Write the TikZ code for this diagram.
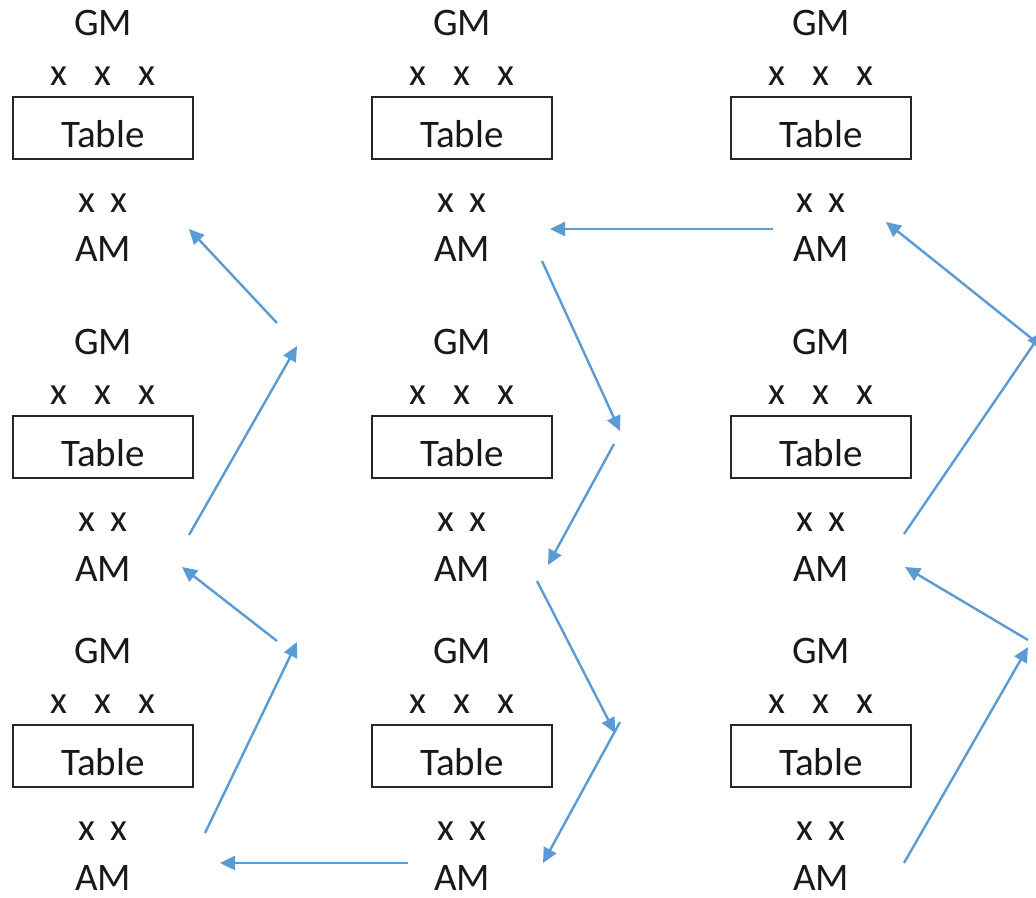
\documentclass[tikz,border=0pt]{standalone}
\usepackage{fontspec}
\setmainfont{Carlito}
\usetikzlibrary{arrows.meta}
\definecolor{arrowblue}{RGB}{91,155,213}
\definecolor{txt}{RGB}{25,25,25}
\tikzset{
  lbl/.style={font=\fontsize{39}{39}\selectfont, text=txt, inner sep=0pt, anchor=base},
  tbl/.style={draw=black!85, line width=2pt, minimum width=180pt, minimum height=62pt, inner sep=0pt},
  flow/.style={draw=arrowblue, line width=2.4pt, -{Triangle[length=15pt,width=14pt]}},
}
\newcommand\station[4]{%
  \node[lbl] (#1gm) at (#2,35+#3) {GM};
  \node[lbl] (#1top) at (#2,85+#3) {x\hspace{27pt}x\hspace{27pt}x};
  \node[tbl] (#1tab) at (#2,128+#3) {};
  \node[lbl] (#1tabtxt) at (#2,147+#3) {Table};
  \node[lbl] (#1low) at (#2,212+#3) {x\hspace{16pt}x};
  \node[lbl] (#1am) at (#2,261+#4) {AM};
}
\begin{document}
\begin{tikzpicture}[x=1pt,y=-1pt]
\useasboundingbox (0,0) rectangle (1036,897);
\clip (0,0) rectangle (1036,897);
\station{a}{103}{0}{0}
\station{b}{103}{319}{320}
\station{c}{103}{628}{629}
\station{d}{462}{0}{0}
\station{e}{462}{319}{320}
\station{f}{462}{628}{629}
\station{g}{821}{0}{0}
\station{h}{821}{319}{320}
\station{i}{821}{628}{629}
% arrow end points
\coordinate (p1s) at (277,323); \coordinate (p1e) at (189,229);
\coordinate (p2s) at (189,535); \coordinate (p2e) at (297,346);
\coordinate (p3s) at (277,641); \coordinate (p3e) at (182,567);
\coordinate (p4s) at (205,833); \coordinate (p4e) at (297,642);
\coordinate (p5s) at (408,863); \coordinate (p5e) at (220,863);
\coordinate (p6s) at (542,261); \coordinate (p6e) at (620,431);
\coordinate (p7s) at (614,444); \coordinate (p7e) at (548,565);
\coordinate (p8s) at (537,581); \coordinate (p8e) at (615,733);
\coordinate (p9s) at (620,722); \coordinate (p9e) at (543,863);
\coordinate (p10s) at (773,229); \coordinate (p10e) at (550,229);
\coordinate (p11s) at (1036,342); \coordinate (p11e) at (886,222);
\coordinate (p12s) at (904,534); \coordinate (p12e) at (1042,332);
\coordinate (p13s) at (1028,640); \coordinate (p13e) at (905,567);
\coordinate (p14s) at (904,863); \coordinate (p14e) at (1028,647);
\foreach \k in {1,...,14}{\draw[flow] (p\k s) -- (p\k e);}
\end{tikzpicture}
\end{document}
